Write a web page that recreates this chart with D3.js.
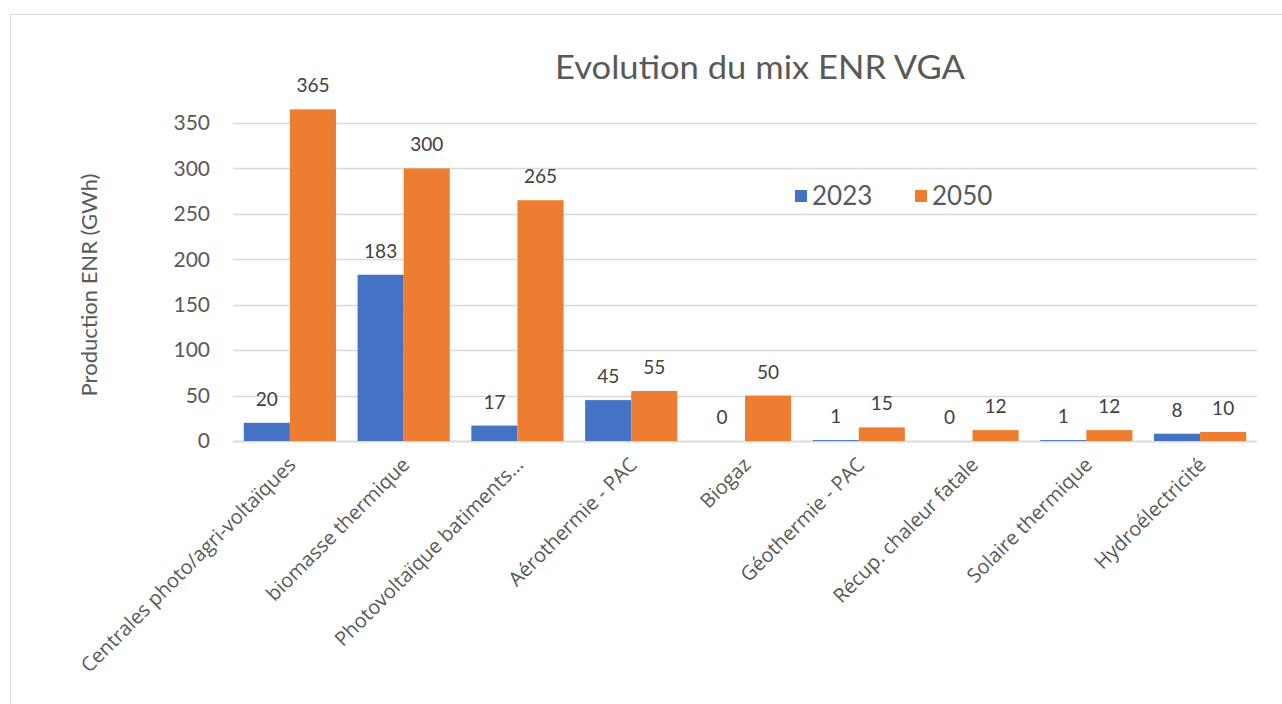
<!DOCTYPE html>
<html>
<head>
<meta charset="utf-8">
<script src="https://cdn.jsdelivr.net/npm/d3@7/dist/d3.min.js"></script>
<style>
    html, body { margin: 0; padding: 0; background: #fff; }
    svg { display: block; font-family: Lato, "Open Sans", sans-serif; }
</style>
</head>
<body>
<div id="chart"></div>
<script>

// chart data
var categories = [
    "Centrales photo/agri-voltaïques",
    "biomasse thermique",
    "Photovoltaïque batiments…",
    "Aérothermie - PAC",
    "Biogaz",
    "Géothermie - PAC",
    "Récup. chaleur fatale",
    "Solaire thermique",
    "Hydroélectricité"
];
var seriesNames = ["2023", "2050"];
var values2023 = [20, 183, 17, 45, 0, 1, 0, 1, 8];
var values2050 = [365, 300, 265, 55, 50, 15, 12, 12, 10];
var yTicks = [0, 50, 100, 150, 200, 250, 300, 350];

(function () {

    "use strict";

    var W = 1282, H = 704,
        colors = ["#4472C4", "#ED7D31"],
        textCol = "#595959",
        wideFont = "'Open Sans', Lato, sans-serif";

    // plot area
    var left = 233, right = 1257, top = 123, bottom = 441;

    var svg = d3.select("#chart")
        .append("svg")
            .attr("width", W)
            .attr("height", H);

    // outer frame
    svg.append("rect")
        .attr("x", 10.5).attr("y", 14.5)
        .attr("width", W).attr("height", H)
        .attr("fill", "none")
        .attr("stroke", "#d9d9d9");

    var x = d3.scaleBand()
        .domain(categories)
        .range([left, right])
        .paddingInner(0.19)
        .paddingOuter(0.095);

    var x1 = d3.scaleBand()
        .domain(seriesNames)
        .range([0, x.bandwidth()]);

    var y = d3.scaleLinear()
        .domain([0, 350])
        .range([bottom, top]);

    // gridlines
    svg.append("g")
        .selectAll("line")
        .data(yTicks)
        .join("line")
            .attr("x1", left).attr("x2", right)
            .attr("y1", function (d) { return Math.round(y(d)) + 0.5; })
            .attr("y2", function (d) { return Math.round(y(d)) + 0.5; })
            .attr("stroke", "#d9d9d9")
            .attr("stroke-width", d => d === 0 ? 2 : 1.5);

    // y axis labels
    var yAxis = d3.axisLeft(y).tickValues(yTicks).tickSize(0).tickPadding(0);
    var gy = svg.append("g")
        .attr("transform", "translate(210,0)")
        .call(yAxis);
    gy.select(".domain").remove();
    gy.selectAll("text")
        .attr("font-family", "Lato, sans-serif")
        .attr("font-size", 21)
        .attr("fill", textCol);

    // bars
    var rows = categories.map(function (c, i) {
        return { cat: c, vals: [values2023[i], values2050[i]] };
    });

    var groups = svg.append("g")
        .selectAll("g")
        .data(rows)
        .join("g")
            .attr("transform", function (d) { return "translate(" + x(d.cat) + ",0)"; });

    groups.selectAll("rect")
        .data(function (d) { return d.vals.map(function (v, k) { return { s: seriesNames[k], k: k, v: v }; }); })
        .join("rect")
            .attr("x", function (d) { return x1(d.s); })
            .attr("width", x1.bandwidth())
            .attr("y", function (d) { return y(d.v); })
            .attr("height", function (d) { return bottom - y(d.v); })
            .attr("fill", function (d) { return colors[d.k]; });

    // data labels
    groups.selectAll("text")
        .data(function (d) { return d.vals.map(function (v, k) { return { s: seriesNames[k], v: v }; }); })
        .join("text")
            .attr("x", function (d) { return x1(d.s) + x1.bandwidth() / 2; })
            .attr("y", function (d) { return y(d.v) - 17; })
            .attr("text-anchor", "middle")
            .attr("font-size", 19)
            .attr("fill", "#404040")
            .text(function (d) { return d.v; });

    // x labels, rotated
    svg.append("g")
        .selectAll("text")
        .data(categories)
        .join("text")
            .attr("transform", function (d) {
                return "translate(" + (x(d) + x.bandwidth() / 2 + 7) + ",466) rotate(-45)";
            })
            .attr("text-anchor", "end")
            .attr("font-family", wideFont)
            .attr("font-size", 20)
            .attr("fill", textCol)
            .text(function (d) { return d; });

    // title
    svg.append("text")
        .attr("x", 760).attr("y", 79)
        .attr("text-anchor", "middle")
        .attr("font-size", 32)
        .attr("textLength", 410)
        .attr("lengthAdjust", "spacingAndGlyphs")
        .attr("fill", textCol)
        .text("Evolution du mix ENR VGA");

    // y axis title
    svg.append("text")
        .attr("transform", "translate(97,285) rotate(-90)")
        .attr("text-anchor", "middle")
        .attr("font-size", 22)
        .attr("fill", textCol)
        .text("Production ENR (GWh)");

    // legend
    var legX = [795, 915];
    var leg = svg.append("g")
        .selectAll("g")
        .data(seriesNames)
        .join("g")
            .attr("transform", function (d, i) { return "translate(" + legX[i] + ",190)"; });
    leg.append("rect")
        .attr("width", 12).attr("height", 12)
        .attr("fill", function (d, i) { return colors[i]; });
    leg.append("text")
        .attr("x", 17).attr("y", 15)
        .attr("font-size", 26)
        .attr("fill", textCol)
        .text(function (d) { return d; });

}());
</script>
</body>
</html>
